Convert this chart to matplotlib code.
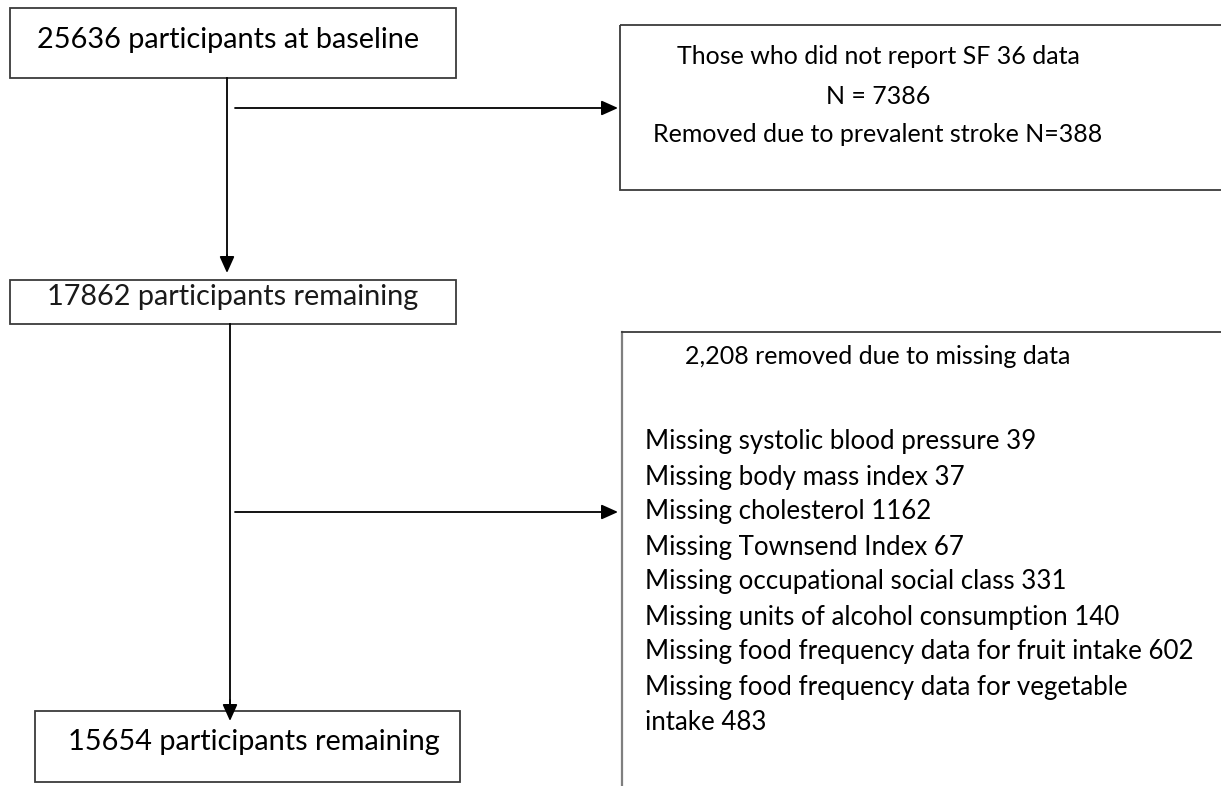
import matplotlib
matplotlib.use("Agg")
import matplotlib.pyplot as plt
from matplotlib.patches import Rectangle

# ---- data (text content of the flow chart) ----
baseline_n = 25636
excluded_sf36_n = 7386
excluded_stroke_n = 388
remaining_1_n = 17862
missing_total = "2,208"
missing_labels = [
    "Missing systolic blood pressure",
    "Missing body mass index",
    "Missing cholesterol",
    "Missing Townsend Index",
    "Missing occupational social class",
    "Missing units of alcohol consumption",
    "Missing food frequency data for fruit intake",
    "Missing food frequency data for vegetable\nintake",
]
missing_counts = [39, 37, 1162, 67, 331, 140, 602, 483]
remaining_2_n = 15654

W, H = 1221, 786
fig = plt.figure(figsize=(W / 100, H / 100), dpi=100)
ax = fig.add_axes([0, 0, 1, 1])
ax.set_xlim(0, W)
ax.set_ylim(H, 0)
ax.axis("off")

FONT = "Lato"
edge = "#3a3a3a"

def box(x0, y0, x1, y1, color=edge, lw=1.3):
    ax.add_patch(Rectangle((x0, y0), x1 - x0, y1 - y0, fill=False,
                           edgecolor=color, linewidth=lw))

def arrow(x0, y0, x1, y1):
    ax.annotate("", xy=(x1, y1), xytext=(x0, y0),
                arrowprops=dict(arrowstyle="-|>,head_length=1.0,head_width=0.45",
                                color="black", lw=1.3, shrinkA=0, shrinkB=0))

# left boxes
box(10, 8, 456, 78)
ax.text(37, 40, f"{baseline_n} participants at baseline", fontsize=20.8,
        family=FONT, va="center", ha="left", color="black")

box(10, 280, 456, 324)
ax.text(47, 297, f"{remaining_1_n} participants remaining", fontsize=20.8,
        family=FONT, va="center", ha="left", color="#1a1a1a")

box(35, 711, 460, 782)
ax.text(68, 742, f"{remaining_2_n} participants remaining", fontsize=20.8,
        family=FONT, va="center", ha="left", color="black")

# right box 1 (extends beyond right edge)
box(620, 25, 1240, 190)
RS = 18.0
ax.text(878, 56, "Those who did not report SF 36 data", fontsize=RS,
        family=FONT, ha="center", va="center")
ax.text(878, 97, f"N = {excluded_sf36_n}", fontsize=RS,
        family=FONT, ha="center", va="center")
ax.text(878, 135, f"Removed due to prevalent stroke N={excluded_stroke_n}",
        fontsize=RS, family=FONT, ha="center", va="center")

# right box 2 (extends beyond right and bottom edges)
ax.plot([622, 622], [332, 800], color="#7f7f7f", lw=1.6)
ax.plot([622, 1240], [332, 332], color=edge, lw=1.3)
ax.text(878, 357, f"{missing_total} removed due to missing data", fontsize=RS,
        family=FONT, ha="center", va="center")

y = 442
step = 35.0
for lab, cnt in zip(missing_labels, missing_counts):
    for line in f"{lab} {cnt}".split("\n"):
        ax.text(645, y, line, fontsize=18.6, family=FONT, ha="left", va="center")
        y += step

# connectors
ax.plot([227, 227], [78, 260], color="black", lw=1.3)
arrow(227, 255, 227, 273)
arrow(235, 108, 618, 108)

ax.plot([230, 230], [324, 705], color="black", lw=1.3)
arrow(230, 700, 230, 721)
arrow(235, 512, 618, 512)

fig.savefig("out.png", dpi=100)
